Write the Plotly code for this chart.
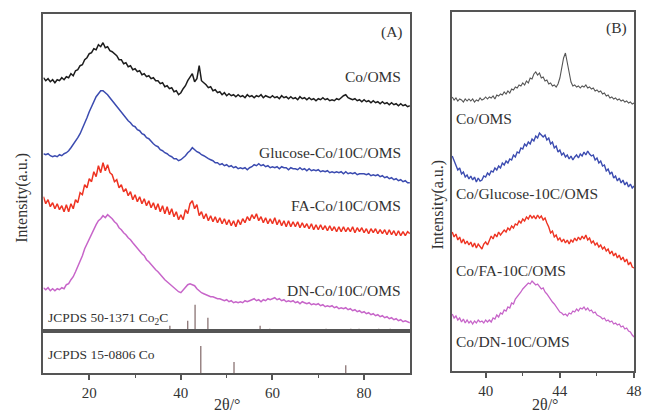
import numpy as np
import plotly.graph_objects as go

# ---------------- Panel A data (2theta grid, 0.5 deg steps) ----------------
two_theta_A = np.arange(10.0, 90.25, 0.5)

co_oms_A = [
    253,250,252,249,251,248,251,250,253,251,
    254,253,257,255,260,261,265,266,271,273,
    277,278,282,281,286,284,288,283,284,280,
    279,277,275,271,271,267,268,264,265,261,
    262,259,260,256,257,254,255,252,253,250,
    250,247,248,244,245,242,243,239,240,236,
    238,242,245,250,253,257,249,252,265,250,
    248,246,243,244,240,241,238,239,236,238,
    235,237,235,236,234,236,234,235,233,236,
    234,235,233,235,234,236,233,235,234,233,
    235,233,234,232,235,233,234,232,234,232,
    233,231,234,232,233,231,233,231,232,230,
    232,231,233,231,232,230,231,230,232,231,
    233,235,236,233,232,231,232,230,231,229,
    231,229,230,228,230,228,229,227,229,227,
    228,226,228,226,227,225,227,225,226,224,
    225]

glucose_A = [
    177,176,177,175,174,175,174,176,175,177,
    178,180,183,186,189,193,197,202,207,213,
    219,224,229,234,237,240,240,238,236,233,
    230,227,225,221,219,215,213,210,208,205,
    204,201,200,197,196,193,192,189,187,185,
    184,181,180,178,177,175,174,172,172,170,
    171,173,175,178,180,183,181,179,178,176,
    175,173,172,171,170,168,168,166,167,165,
    166,164,165,163,164,162,163,162,163,161,
    163,164,166,165,167,165,166,164,165,163,
    164,163,164,162,164,163,163,161,163,162,
    162,161,163,161,162,160,162,160,161,160,
    161,159,160,159,160,158,159,158,159,158,
    159,157,159,157,158,157,158,156,157,157,
    157,156,157,155,156,155,156,154,155,153,
    154,152,153,151,152,150,151,149,150,148,
    148]

fa_A = [
    134,127,131,124,128,122,127,121,125,119,
    126,119,127,122,131,128,138,136,146,143,
    152,149,159,154,165,158,168,160,166,158,
    156,149,151,143,146,139,142,135,139,131,
    136,129,134,127,132,125,130,123,128,121,
    127,119,125,117,124,116,122,114,119,111,
    116,111,121,117,127,130,122,126,115,119,
    112,117,110,115,109,114,108,113,107,112,
    106,111,105,110,104,111,106,112,108,114,
    110,116,112,117,110,114,108,113,107,112,
    107,113,106,111,105,110,104,110,104,109,
    104,109,103,108,103,107,102,107,101,106,
    101,106,101,105,100,105,100,104,99,104,
    99,104,99,103,99,104,98,103,99,103,
    98,102,97,102,98,102,97,101,97,101,
    96,101,96,100,95,100,95,99,95,99,
    97]

dn_A = [
    43,41,43,40,42,40,42,41,43,42,
    46,47,51,54,59,64,70,75,82,87,
    92,97,102,106,110,112,115,113,116,114,
    112,109,107,103,101,98,96,93,91,88,
    85,82,80,77,75,71,69,66,64,61,
    59,56,54,51,49,47,45,43,41,39,
    38,41,43,46,47,46,45,42,40,38,
    37,36,35,34,34,33,32,32,31,30,
    31,29,30,28,29,28,29,28,30,29,
    30,31,32,30,31,29,31,30,32,31,
    32,33,31,32,30,31,29,30,29,30,
    28,29,27,29,28,27,28,26,27,26,
    27,25,26,24,25,24,25,23,24,22,
    23,22,23,21,22,20,21,19,20,18,
    19,17,18,16,17,15,16,14,15,13,
    14,12,13,11,12,10,11,9,10,9,
    8]

# reference patterns (stick positions / heights)
co2c_pos = [37.6, 41.5, 43.1, 45.9, 57.3, 59.4, 71.7, 77.1, 78.9, 83.2, 85.7]
co2c_hgt = [5, 10, 26, 13, 5, 2, 2, 2, 2, 2, 2]
co_pos = [44.35, 51.6, 76.0]
co_hgt = [26.7, 11, 7.7]

# ---------------- Panel B data (2theta grid, 0.1 deg steps) ----------------
two_theta_B = np.round(np.arange(38.2, 48.05, 0.1), 2)

co_oms_B = [
    274,271,273,270,272,271,269,272,270,272,
    270,272,269,271,270,273,271,272,274,272,
    274,273,275,272,276,275,277,276,279,277,
    280,278,282,281,284,283,286,285,288,286,
    290,288,293,292,297,299,296,298,293,294,
    290,291,287,288,285,286,284,287,293,303,
    313,318,308,298,289,285,286,284,285,283,
    285,284,286,283,284,282,283,280,281,279,
    280,277,278,275,276,273,274,272,273,271,
    272,270,271,269,270,268,269,267,268]

glucose_B = [
    215,210,205,201,203,197,199,194,196,192,
    195,191,194,189,193,190,191,195,194,198,
    196,200,199,203,201,205,203,208,206,210,
    208,212,211,216,214,219,218,223,222,227,
    225,229,227,232,230,235,233,238,236,234,
    236,231,233,227,229,223,225,219,221,216,
    218,214,216,212,215,211,214,216,213,217,
    215,219,216,220,217,215,216,211,213,208,
    210,205,206,200,202,197,199,193,195,190,
    193,188,191,186,189,184,187,183,185]

fa_B = [
    139,134,137,131,134,128,132,127,130,126,
    129,124,128,123,127,125,122,127,129,126,
    131,135,132,137,134,139,136,138,141,139,
    143,141,145,143,147,146,150,148,152,150,
    154,152,156,153,155,152,156,153,155,151,
    153,148,144,138,140,134,136,131,133,129,
    132,128,131,127,131,129,133,130,134,131,
    135,132,136,131,133,128,130,126,128,124,
    126,122,124,120,122,117,120,115,118,113,
    116,111,114,109,112,106,109,104,103]

dn_B = [
    57,53,55,51,53,49,52,48,51,48,
    50,47,50,48,51,49,50,48,51,49,
    51,49,53,52,56,54,58,57,61,60,
    64,63,68,67,72,74,76,79,82,84,
    86,88,87,90,88,86,87,84,82,83,
    79,77,74,72,69,67,64,62,59,58,
    56,57,55,58,57,60,59,62,60,63,
    62,64,61,63,60,61,58,59,56,55,
    54,52,53,50,51,49,50,47,48,46,
    47,44,45,42,43,40,39,36,34]

labels_A = ["Co/OMS", "Glucose-Co/10C/OMS", "FA-Co/10C/OMS", "DN-Co/10C/OMS"]
labels_B = ["Co/OMS", "Co/Glucose-10C/OMS", "Co/FA-10C/OMS", "Co/DN-10C/OMS"]
colors = ["#1c1c1c", "#3b4bb0", "#ee3322", "#c765c9"]

FONT = "Liberation Serif"
W, H = 650, 414

def fx(px):
    return px / W

def fy(py):
    return 1 - py / H

fig = go.Figure()

seriesA = [co_oms_A, glucose_A, fa_A, dn_A]
for s, c in zip(seriesA, colors):
    fig.add_trace(go.Scatter(x=two_theta_A, y=s, mode="lines",
                             line=dict(color=c, width=1.5),
                             xaxis="x", yaxis="y", showlegend=False))

def sticks(pos, hgt):
    xs, ys = [], []
    for p, h in zip(pos, hgt):
        xs += [p, p, None]
        ys += [0, h, None]
    return xs, ys

sx, sy = sticks(co2c_pos, co2c_hgt)
fig.add_trace(go.Scatter(x=sx, y=sy, mode="lines", line=dict(color="#806868", width=1.2),
                         xaxis="x", yaxis="y", showlegend=False))
sx, sy = sticks(co_pos, co_hgt)
fig.add_trace(go.Scatter(x=sx, y=sy, mode="lines", line=dict(color="#806868", width=1.2),
                         xaxis="x2", yaxis="y2", showlegend=False))

seriesB = [co_oms_B, glucose_B, fa_B, dn_B]
colorsB = ["#555555", "#3b4bb0", "#ee3322", "#c765c9"]
widthsB = [1.1, 1.4, 1.4, 1.3]
for s, c, w in zip(seriesB, colorsB, widthsB):
    fig.add_trace(go.Scatter(x=two_theta_B, y=s, mode="lines",
                             line=dict(color=c, width=w),
                             xaxis="x3", yaxis="y3", showlegend=False))

frame = dict(showline=True, mirror=True, linecolor="#555555", linewidth=1.5,
             showgrid=False, zeroline=False)
tickfont = dict(family=FONT, size=15, color="#333333")

fig.update_layout(
    width=W, height=H, margin=dict(l=0, r=0, t=0, b=0),
    paper_bgcolor="white", plot_bgcolor="white",
    xaxis=dict(domain=[fx(44), fx(415)], range=[10, 90], anchor="y",
               showticklabels=False, ticks="", **frame),
    yaxis=dict(domain=[fy(330.7), fy(14)], range=[0, 316.7], anchor="x",
               showticklabels=False, ticks="", **frame),
    xaxis2=dict(domain=[fx(44), fx(415)], range=[10, 90], anchor="y2",
                tickvals=[20, 40, 60, 80], ticks="outside", ticklen=5,
                tickcolor="#555555", tickwidth=1.5, tickfont=tickfont,
                minor=dict(tickvals=[30, 50, 70], ticks="outside", ticklen=3,
                           tickcolor="#555555", tickwidth=1.2),
                **frame),
    yaxis2=dict(domain=[fy(373), fy(330.7)], range=[0, 42], anchor="x2",
                showticklabels=False, ticks="", **frame),
    xaxis3=dict(domain=[fx(457.5), fx(642)], range=[38.18, 48], anchor="y3",
                tickvals=[40, 44, 48], ticks="outside", ticklen=5,
                tickcolor="#555555", tickwidth=1.5, tickfont=tickfont,
                minor=dict(tickvals=[42, 46], ticks="outside", ticklen=3,
                           tickcolor="#555555", tickwidth=1.2),
                **frame),
    yaxis3=dict(domain=[fy(371), fy(12.3)], range=[0, 358.7], anchor="x3",
                showticklabels=False, ticks="", **frame),
)

txt = dict(family=FONT, size=15.5, color="#333333")
ann = []
# panel A labels
for lab, py in zip(labels_A, [77, 152, 205, 290]):
    ann.append(dict(x=fx(408), y=fy(py), xref="paper", yref="paper", text=lab,
                    showarrow=False, xanchor="right", yanchor="middle", font=txt))
ann.append(dict(x=fx(397), y=fy(32), xref="paper", yref="paper", text="(A)",
                showarrow=False, xanchor="center", yanchor="middle", font=txt))
ann.append(dict(x=fx(47), y=fy(318), xref="paper", yref="paper",
                text="JCPDS 50-1371 Co<sub>2</sub>C",
                showarrow=False, xanchor="left", yanchor="middle",
                font=dict(family=FONT, size=13.5, color="#333333")))
ann.append(dict(x=fx(47), y=fy(354), xref="paper", yref="paper",
                text="JCPDS 15-0806 Co",
                showarrow=False, xanchor="left", yanchor="middle",
                font=dict(family=FONT, size=13.5, color="#333333")))
# panel B labels
for lab, py in zip(labels_B, [119, 193, 270, 341]):
    ann.append(dict(x=fx(460), y=fy(py), xref="paper", yref="paper", text=lab,
                    showarrow=False, xanchor="left", yanchor="middle", font=txt))
ann.append(dict(x=fx(624), y=fy(28), xref="paper", yref="paper", text="(B)",
                showarrow=False, xanchor="center", yanchor="middle", font=txt))
# axis titles
ann.append(dict(x=fx(22), y=fy(198), xref="paper", yref="paper", text="Intensity(a.u.)",
                showarrow=False, textangle=-90, xanchor="center", yanchor="middle",
                font=dict(family=FONT, size=16, color="#333333")))
ann.append(dict(x=fx(443), y=fy(205), xref="paper", yref="paper", text="Intensity(a.u.)",
                showarrow=False, textangle=-90, xanchor="center", yanchor="middle",
                font=dict(family=FONT, size=16, color="#333333")))
ann.append(dict(x=fx(230), y=fy(404), xref="paper", yref="paper", text="2θ/°",
                showarrow=False, xanchor="center", yanchor="middle",
                font=dict(family=FONT, size=16, color="#333333")))
ann.append(dict(x=fx(552), y=fy(404), xref="paper", yref="paper", text="2θ/°",
                showarrow=False, xanchor="center", yanchor="middle",
                font=dict(family=FONT, size=16, color="#333333")))
fig.update_layout(annotations=ann)

fig.write_html("out.html", config={"displayModeBar": False},
               post_script="document.body.style.margin='0';document.body.style.overflow='hidden';")
